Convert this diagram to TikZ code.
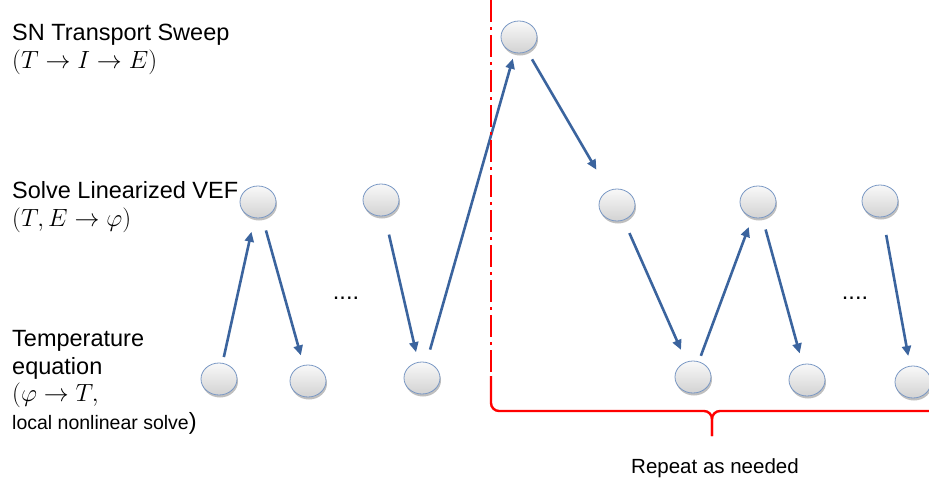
\documentclass[tikz,border=0pt]{standalone}
\usepackage{fontspec}
\setmainfont{Liberation Sans}
\usetikzlibrary{shapes.geometric, arrows.meta, shadows}

\definecolor{flowblue}{RGB}{59,100,158}
\definecolor{rimblue}{RGB}{122,152,196}
\definecolor{cutred}{RGB}{255,0,0}

\begin{document}
\begin{tikzpicture}[x=1pt, y=-1pt,
  bubble/.style={ellipse, minimum width=36pt, minimum height=32pt, inner sep=0pt,
    draw=rimblue, line width=0.8pt, top color=gray!5, bottom color=gray!35,
    drop shadow={shadow xshift=1pt, shadow yshift=-2.5pt, opacity=0.25, fill=black}},
  flow/.style={draw=flowblue, line width=2.6pt, -{Triangle[length=10pt, width=9pt]}},
  lbl/.style={align=left, inner sep=0pt, font=\fontsize{23.5}{27.5}\selectfont},
  redline/.style={draw=cutred, line width=2.4pt},
]
  \useasboundingbox (0,0) rectangle (929,480);

  % row labels (base = last line)
  \node[lbl, anchor=base west] (sweep) at (12,68) {SN Transport Sweep\\$(T \rightarrow I \rightarrow E)$};
  \node[lbl, anchor=base west] (vef) at (12,226) {Solve Linearized VEF\\$(T, E \rightarrow \varphi)$};
  \node[lbl, anchor=base west] (temp) at (12,429) {Temperature\\equation\\$(\varphi \rightarrow T,$\\{\fontsize{19.5}{27.5}\selectfont local nonlinear solve})};

  % states
  \node[bubble] (top) at (519,37) {};
  \node[bubble] (v1) at (258,202) {};
  \node[bubble] (v2) at (381,200) {};
  \node[bubble] (v3) at (617,205) {};
  \node[bubble] (v4) at (758,202) {};
  \node[bubble] (v5) at (880,201) {};
  \node[bubble] (t1) at (219,379) {};
  \node[bubble] (t2) at (308,381) {};
  \node[bubble] (t3) at (422,378) {};
  \node[bubble] (t4) at (693,377) {};
  \node[bubble] (t5) at (807,380) {};
  \node[bubble] (t6) at (913,382) {};

  \node[lbl, anchor=base] (gap1) at (346,299) {....};
  \node[lbl, anchor=base] (gap2) at (855,299) {....};

  % iterations
  \draw[flow, shorten <=6pt, shorten >=14pt] (t1) -- (v1);
  \draw[flow, shorten <=13pt, shorten >=10pt] (v1) -- (t2);
  \draw[flow, shorten <=19pt, shorten >=10pt] (v2) -- (t3);
  \draw[flow, shorten <=13pt, shorten >=6pt] (t3) -- (top);
  \draw[flow, shorten <=9pt, shorten >=24pt] (top) -- (v3);
  \draw[flow, shorten <=14pt, shorten >=13pt] (v3) -- (t4);
  \draw[flow, shorten <=6pt, shorten >=10pt] (t4) -- (v4);
  \draw[flow, shorten <=12pt, shorten >=11pt] (v4) -- (t5);
  \draw[flow, shorten <=18pt, shorten >=10pt] (v5) -- (t6);

  % repeat marker
  \draw[redline, dash pattern=on 22pt off 5pt on 3pt off 5pt] (491,0) -- (491,372);
  \draw[redline, rounded corners=8pt] (491,376) -- (491,411) -- (712,411) -- (712,436);
  \draw[redline, rounded corners=8pt] (929,411) -- (712,411) -- (712,436);
  \node[anchor=base, font=\fontsize{20.5}{24}\selectfont] (repeat) at (715,473) {Repeat as needed};
\end{tikzpicture}
\end{document}
